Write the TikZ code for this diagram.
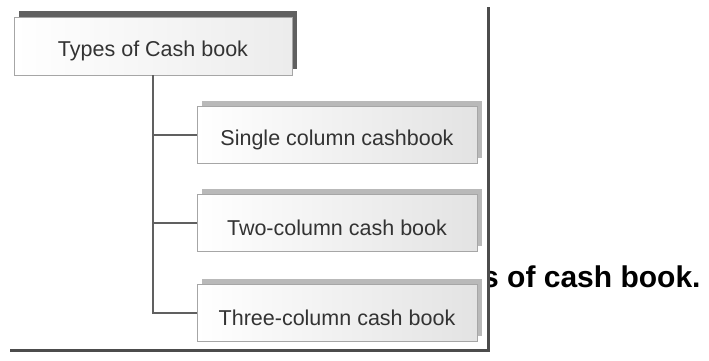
\documentclass[tikz,border=0pt]{standalone}
\usepackage{fontspec}
\setmainfont{Liberation Sans}
\usetikzlibrary{shadows}

\begin{document}
\begin{tikzpicture}[x=1pt,y=-1pt,font=\fontsize{21.5}{24}\selectfont]
    \tikzset{
        boxtext/.style={text=black!80, yshift=-5pt},
        typebox/.style={
            draw=gray!70,
            line width=0.8pt,
            minimum width=280pt,
            minimum height=57pt,
            shading=axis,
            left color=white,
            right color=gray!22,
            general shadow={fill=gray!55, shadow xshift=5pt, shadow yshift=6pt},
            label={[boxtext]center:#1}
        },
        headbox/.style={
            typebox={#1},
            minimum width=278pt,
            minimum height=58pt,
            right color=gray!15,
            general shadow={fill=gray!75!black, shadow xshift=5pt, shadow yshift=6pt}
        },
        trunk/.style={draw=gray!75!black, line width=2.5pt},
        frame/.style={draw=black!70, line width=3pt}
    }

    \useasboundingbox (0,0) rectangle (709,360);

    \node[headbox={Types of Cash book}] (types) at (153,46) {};
    \node[typebox={Single column cashbook}] (single) at (337,135) {};
    \node[typebox={Two-column cash book}] (two) at (337,223) {};
    \node[typebox={Three-column cash book}] (three) at (337,313) {};

    \draw[trunk] (types.south) |- (three.west);
    \draw[trunk] (types.south |- single.west) -- (single.west);
    \draw[trunk] (types.south |- two.west) -- (two.west);

    % caption, cut off by the frame
    \begin{scope}
        \clip (489,240) rectangle (709,310);
        \node[anchor=base west, inner sep=0pt,
              font=\fontsize{30}{32}\selectfont\bfseries] (caption) at (482,287)
              {s of cash book.};
    \end{scope}

    \coordinate (ftop) at (488,7);
    \coordinate (fcorner) at (488,350);
    \coordinate (fleft) at (10,350);
    \draw[frame] (ftop) -- (fcorner) -- (fleft);
\end{tikzpicture}
\end{document}
